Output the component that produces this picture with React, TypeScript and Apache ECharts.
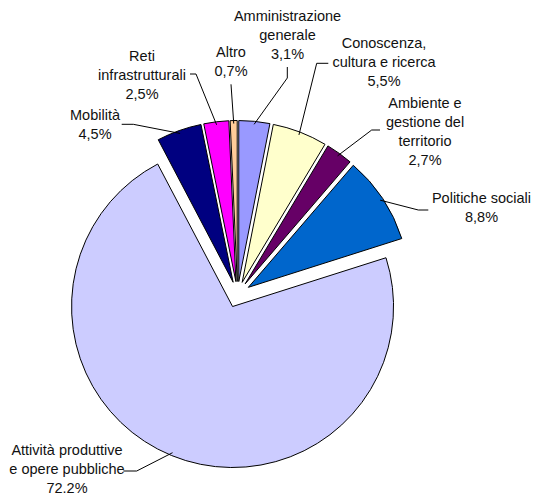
import React, { useEffect, useRef } from "react";
import * as echarts from "echarts";

const categories = [
  "Amministrazione\ngenerale",
  "Conoscenza,\ncultura e ricerca",
  "Ambiente e\ngestione del\nterritorio",
  "Politiche sociali",
  "Attività produttive\ne opere pubbliche",
  "Mobilità",
  "Reti\ninfrastrutturali",
  "Altro",
];
const values = [3.1, 5.5, 2.7, 8.8, 72.2, 4.5, 2.5, 0.7];
const valueLabels = ["3,1%", "5,5%", "2,7%", "8,8%", "72.2%", "4,5%", "2,5%", "0,7%"];
const colors = ["#9999FF", "#FFFFCC", "#660066", "#0066CC", "#CCCCFF", "#000080", "#FF00FF", "#FFCC99"];

// layout
const CX = 237.5;
const CY = 294.5;
const R = 161;
const OFF = 13;
const labelPos: number[][] = [
  [287.5, 35],
  [384, 62],
  [425, 131],
  [481.5, 207.5],
  [67, 469],
  [95, 124],
  [142, 75],
  [231, 61],
];
const leaderStart: number[][][] = [
  [[287.3, 67], [287.3, 78]],
  [[328.3, 63.3], [316.7, 63.3]],
  [[380, 130], [371.7, 130]],
  [[428.3, 210], [418.3, 210]],
  [[123.3, 471], [136.7, 471]],
  [[121.7, 124.3], [133.3, 124.3]],
  [[190, 74], [196, 74]],
  [[231, 84.3]],
];

function anchorOf(i: number): number[] {
  const total = values.reduce((a, b) => a + b, 0);
  let s = 0;
  for (let k = 0; k < i; k++) s += values[k];
  const mid = ((s + values[i] / 2) / total) * Math.PI * 2;
  const dx = Math.sin(mid);
  const dy = -Math.cos(mid);
  const r = OFF + R - 3;
  return [CX + dx * r, CY + dy * r];
}

export default function App() {
  const ref = useRef<HTMLDivElement>(null);
  useEffect(() => {
    if (!ref.current) return;
    const chart = echarts.init(ref.current, null, { renderer: "svg" });
    const graphics: any[] = [];
    values.forEach((_, i) => {
      graphics.push({
        type: "polyline",
        silent: true,
        shape: { points: [...leaderStart[i], anchorOf(i)] },
        style: { stroke: "#000", lineWidth: 1, fill: null },
        z: 10,
      });
      graphics.push({
        type: "text",
        silent: true,
        x: labelPos[i][0],
        y: labelPos[i][1],
        style: {
          text: categories[i] + "\n" + valueLabels[i],
          fill: "#111",
          fontFamily: "Liberation Sans, Arial, sans-serif",
          fontSize: 14.5,
          lineHeight: 19,
          textAlign: "center",
          textVerticalAlign: "middle",
        },
        z: 10,
      });
    });
    chart.setOption({
      animation: false,
      backgroundColor: "#ffffff",
      graphic: graphics,
      series: [
        {
          type: "pie",
          center: [CX, CY],
          radius: R,
          startAngle: 90,
          clockwise: true,
          selectedMode: "multiple",
          selectedOffset: OFF,
          avoidLabelOverlap: false,
          emphasis: { disabled: true },
          itemStyle: { borderColor: "#000", borderWidth: 1 },
          label: { show: false },
          labelLine: { show: false },
          data: values.map((v, i) => ({
            name: categories[i],
            value: v,
            selected: true,
            itemStyle: { color: colors[i] },
          })),
        },
      ],
    });
    return () => chart.dispose();
  }, []);
  return (
    <div
      ref={ref}
      style={{ position: "fixed", left: 0, top: 0, width: 535, height: 496, background: "#fff" }}
    />
  );
}
